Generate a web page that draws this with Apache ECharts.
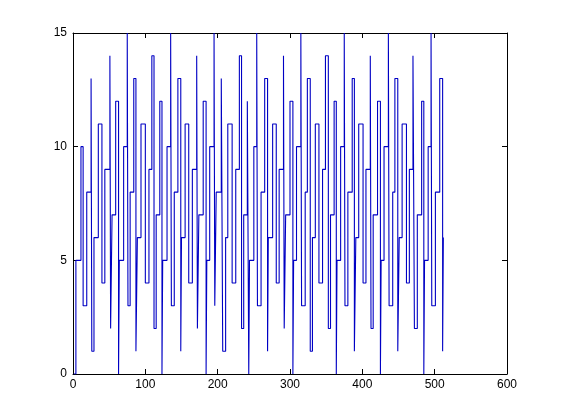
<!DOCTYPE html>
<html>
<head>
<meta charset="utf-8">
<script src="https://cdn.jsdelivr.net/npm/echarts@6/dist/echarts.min.js"></script>
<style>
html,body{margin:0;padding:0;background:#fff;}
#c{width:561px;height:420px;}
</style>
</head>
<body>
<div id="c"></div>
<script>
// Step start positions (x) and the level held from there (y)
const stepX = [
  1, 4, 11, 14, 19, 25, 26, 29, 35, 40, 44, 51, 52, 54, 59,
  63, 64, 70, 75, 76, 79, 84, 87, 89, 94, 100, 105, 109, 112, 115, 120,
  123, 124, 130, 135, 136, 140, 145, 149, 150, 155, 160, 165, 171, 172, 174, 180,
  184, 185, 189, 195, 196, 198, 205, 207, 211, 214, 220, 225, 230, 233, 236, 241,
  243, 244, 250, 254, 255, 260, 265, 269, 270, 276, 281, 285, 291, 292, 294, 300,
  304, 305, 309, 315, 316, 321, 324, 328, 331, 335, 340, 345, 349, 353, 356, 361,
  364, 365, 370, 375, 376, 380, 386, 389, 391, 395, 401, 405, 411, 412, 415, 421,
  425, 426, 430, 436, 437, 442, 445, 449, 451, 455, 461, 465, 470, 472, 476, 482,
  485, 486, 491, 495, 496, 501, 507, 511, 512
];
const stepY = [
  0, 5, 10, 3, 8, 13, 1, 6, 11, 4, 9, 14, 2, 7, 12,
  0, 5, 10, 15, 3, 8, 13, 1, 6, 11, 4, 9, 14, 2, 7, 12,
  0, 5, 10, 15, 3, 8, 13, 1, 6, 11, 4, 9, 14, 2, 7, 12,
  0, 5, 10, 15, 3, 8, 13, 1, 6, 11, 4, 9, 14, 2, 7, 12,
  0, 5, 10, 15, 3, 8, 13, 1, 6, 11, 4, 9, 14, 2, 7, 12,
  0, 5, 10, 15, 3, 8, 13, 1, 6, 11, 4, 9, 14, 2, 7, 12,
  0, 5, 10, 15, 3, 8, 13, 1, 6, 11, 4, 9, 14, 2, 7, 12,
  0, 5, 10, 15, 3, 8, 13, 1, 6, 11, 4, 9, 14, 2, 7, 12,
  0, 5, 10, 15, 3, 8, 13, 1, 6
];
const xTicks = [0, 100, 200, 300, 400, 500, 600];
const yTicks = [0, 5, 10, 15];

const data = stepX.map((x, i) => [x, stepY[i]]);
const chart = echarts.init(document.getElementById('c'), null, {renderer: 'canvas'});
const font = {fontFamily: 'Liberation Sans, Arial, sans-serif', fontSize: 12, color: '#000'};
const axisCommon = {
  axisLine: {show: true, onZero: false, lineStyle: {color: '#000', width: 1}},
  axisTick: {show: true, inside: true, length: 5, lineStyle: {color: '#000'}},
  splitLine: {show: false}
};
chart.setOption({
  animation: false,
  backgroundColor: '#fff',
  grid: {left: 73, top: 33, width: 434, height: 341, containLabel: false},
  xAxis: [
    Object.assign({type: 'value', position: 'bottom', min: xTicks[0], max: xTicks[xTicks.length - 1], interval: 100,
      axisLabel: Object.assign({margin: 5}, font)}, axisCommon),
    Object.assign({type: 'value', position: 'top', min: xTicks[0], max: xTicks[xTicks.length - 1], interval: 100,
      axisLabel: {show: false}}, axisCommon)
  ],
  yAxis: [
    Object.assign({type: 'value', position: 'left', min: yTicks[0], max: yTicks[yTicks.length - 1], interval: 5,
      axisLabel: Object.assign({margin: 6}, font)}, axisCommon),
    Object.assign({type: 'value', position: 'right', min: yTicks[0], max: yTicks[yTicks.length - 1], interval: 5,
      axisLabel: {show: false}}, axisCommon)
  ],
  series: [{
    type: 'line',
    step: 'end',
    data: data,
    symbol: 'none',
    clip: true,
    lineStyle: {color: '#0000c4', width: 1.1},
    xAxisIndex: 0,
    yAxisIndex: 0
  }]
});
</script>
</body>
</html>
